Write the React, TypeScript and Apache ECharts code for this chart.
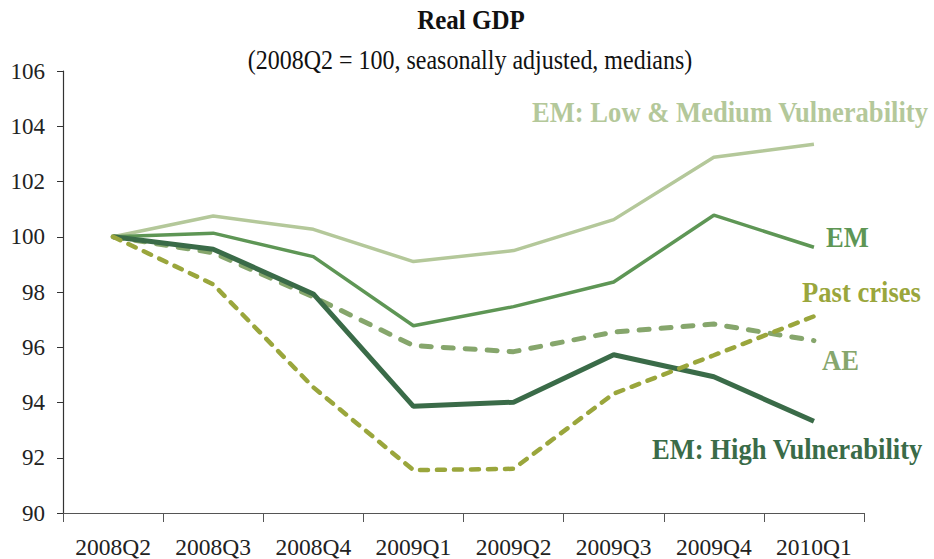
import React, { useEffect, useRef } from "react";
import * as echarts from "echarts";

const categories = ["2008Q2", "2008Q3", "2008Q4", "2009Q1", "2009Q2", "2009Q3", "2009Q4", "2010Q1"];
const emLowMedium = [100, 100.75, 100.27, 99.1, 99.5, 100.62, 102.88, 103.35];
const em = [100, 100.13, 99.28, 96.78, 97.47, 98.36, 100.78, 99.62];
const ae = [100, 99.42, 97.82, 96.06, 95.84, 96.55, 96.84, 96.24];
const emHigh = [100, 99.55, 97.93, 93.86, 94.01, 95.73, 94.93, 93.32];
const pastCrises = [100, 98.28, 94.55, 91.55, 91.6, 94.32, 95.71, 97.12];

const SERIF = '"Liberation Serif", "Times New Roman", serif';

export default function App() {
  const ref = useRef<HTMLDivElement>(null);
  useEffect(() => {
    document.body.style.margin = "0";
    if (!ref.current) return;
    const chart = echarts.init(ref.current, null, { renderer: "svg" });
    const label = (text: string, x: number, y: number, color: string) => ({
      type: "text",
      x,
      y,
      scaleY: 1.12,
      style: {
        text,
        fill: color,
        font: `bold 26.6px ${SERIF}`,
        textAlign: "left",
        textVerticalAlign: "middle",
      },
      z: 100,
    });
    chart.setOption({
      animation: false,
      backgroundColor: "#ffffff",
      grid: { left: 63, right: 70, top: 71, bottom: 46, containLabel: false },
      xAxis: {
        type: "category",
        data: categories,
        boundaryGap: true,
        axisLine: { show: true, lineStyle: { color: "#555", width: 1.2 } },
        axisTick: { show: true, interval: 0, length: 9, inside: false, lineStyle: { color: "#555" } },
        axisLabel: { interval: 0, margin: 22, color: "#222", fontFamily: SERIF, fontSize: 23.5 },
        splitLine: { show: false },
      },
      yAxis: {
        type: "value",
        min: 90,
        max: 106,
        interval: 2,
        axisLine: { show: true, lineStyle: { color: "#333", width: 1.2 } },
        axisTick: { show: true, length: 6, inside: false, lineStyle: { color: "#333" } },
        axisLabel: { margin: 18, color: "#222", fontFamily: SERIF, fontSize: 23 },
        splitLine: { show: false },
      },
      series: [
        {
          name: "EM: Low & Medium Vulnerability",
          type: "line",
          data: emLowMedium,
          symbol: "none",
          lineStyle: { color: "#b4c89a", width: 3.5 },
          z: 2,
        },
        {
          name: "EM",
          type: "line",
          data: em,
          symbol: "none",
          lineStyle: { color: "#5e9655", width: 3.5 },
          z: 3,
        },
        {
          name: "AE",
          type: "line",
          data: ae,
          symbol: "none",
          lineStyle: { color: "#86a66c", width: 5, type: [10, 12], cap: "round" },
          z: 4,
        },
        {
          name: "EM: High Vulnerability",
          type: "line",
          data: emHigh,
          symbol: "none",
          lineStyle: { color: "#3a6b48", width: 5 },
          z: 5,
        },
        {
          name: "Past crises",
          type: "line",
          data: pastCrises,
          symbol: "none",
          lineStyle: { color: "#9aa63c", width: 4.5, type: [8, 9], cap: "round" },
          z: 6,
        },
      ],
      graphic: [
        {
          type: "text",
          x: 471,
          y: 20,
          scaleY: 1.12,
          style: {
            text: "Real GDP",
            fill: "#111",
            font: `bold 25px ${SERIF}`,
            textAlign: "center",
            textVerticalAlign: "middle",
          },
        },
        {
          type: "text",
          x: 470,
          y: 60,
          scaleY: 1.1,
          style: {
            text: "(2008Q2 = 100, seasonally adjusted, medians)",
            fill: "#111",
            font: `24px ${SERIF}`,
            textAlign: "center",
            textVerticalAlign: "middle",
          },
        },
        label("EM: Low & Medium Vulnerability", 532, 112, "#b4c89a"),
        label("EM", 826, 237, "#5e9655"),
        label("Past crises", 802, 292, "#9aa63c"),
        label("AE", 822, 360, "#86a66c"),
        label("EM: High Vulnerability", 652, 449, "#3a6b48"),
      ],
    });
    return () => chart.dispose();
  }, []);
  return <div ref={ref} style={{ width: 934, height: 559 }} />;
}
